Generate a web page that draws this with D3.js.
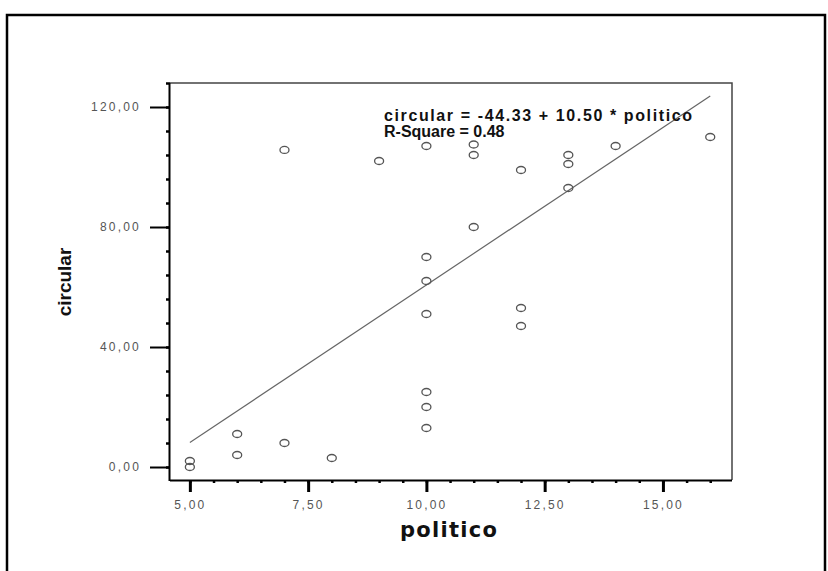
<!DOCTYPE html>
<html>
<head>
<meta charset="utf-8">
<script src="https://cdn.jsdelivr.net/npm/d3@7"></script>
<style>
  body { margin: 0; background: #fff; }
  svg { display: block; }
</style>
</head>
<body>
<div class="canva"></div>
<script>
const width = 828
const height = 571

// data
const politico = [5, 5, 6, 6, 7, 7, 8, 9, 10, 10, 10, 10, 10, 10, 10, 11, 11, 11, 12, 12, 12, 13, 13, 13, 14, 16]
const circular = [2, 0, 11, 4, 8, 105.7, 3, 102, 107, 70, 62, 51, 25, 20, 13, 107.5, 104, 80, 99, 53, 47, 104, 101, 93, 107, 110]
const xMajor = [5, 7.5, 10, 12.5, 15]
const xMinor = d3.range(5, 16.01, 0.5)
const yMajor = [0, 40, 80, 120]
const yMinor = d3.range(0, 128.1, 8)
const fitA = -44.33
const fitB = 10.50
const fitLabels = ["circular = -44.33 + 10.50 * politico", "R-Square = 0.48"]

const svg = d3.select(".canva").append("svg").attr("width", width).attr("height", height)

//outer frame (bottom edge falls off the picture)
svg.append("path")
  .attr("d", `M7,${height} V15 H825 V${height}`)
  .attr("fill", "none")
  .attr("stroke", "#000")
  .attr("stroke-width", 2.5)

const x = d3.scaleLinear().domain([4.58, 16.46]).range([170, 732])
const y = d3.scaleLinear().domain([-4.33, 128]).range([480, 83])

const fmt = d => d3.format(".2f")(d).replace(".", ",")

//plot box top/right
svg.append("path")
  .attr("d", `M170,83 H732 V480`)
  .attr("fill", "none")
  .attr("stroke", "#444")
  .attr("stroke-width", 1.5)

//minor ticks
svg.append("g")
  .attr("transform", "translate(0,480)")
  .call(d3.axisBottom(x).tickValues(xMinor).tickSize(3).tickSizeOuter(0).tickFormat(""))
  .call(g => g.select(".domain").remove())
  .call(g => g.selectAll("line").attr("stroke", "#000").attr("stroke-width", 2.5))
svg.append("g")
  .attr("transform", "translate(170,0)")
  .call(d3.axisLeft(y).tickValues(yMinor).tickSize(4).tickSizeOuter(0).tickFormat(""))
  .call(g => g.select(".domain").remove())
  .call(g => g.selectAll("line").attr("stroke", "#000").attr("stroke-width", 2.5))

//major axes
const xAxis = svg.append("g")
  .attr("transform", "translate(0,480)")
  .call(d3.axisBottom(x).tickValues(xMajor).tickSize(12).tickSizeOuter(0).tickPadding(8).tickFormat(fmt))
xAxis.select(".domain").attr("d", `M170,0.5H732`).attr("stroke", "#000").attr("stroke-width", 2)
xAxis.selectAll("line").attr("stroke", "#000").attr("stroke-width", 3)

const yAxis = svg.append("g")
  .attr("transform", "translate(170,0)")
  .call(d3.axisLeft(y).tickValues(yMajor).tickSize(20).tickSizeOuter(0).tickPadding(9).tickFormat(fmt))
yAxis.select(".domain").attr("d", `M-0.5,83V481`).attr("stroke", "#000").attr("stroke-width", 2)
yAxis.selectAll("line").attr("stroke", "#000").attr("stroke-width", 2)

svg.selectAll(".tick text")
  .attr("font-family", "Liberation Sans, Arial, sans-serif")
  .attr("font-size", 12)
  .attr("letter-spacing", 2.2)
  .attr("fill", "#555")

//regression line
svg.append("line")
  .attr("x1", x(5)).attr("y1", y(fitA + fitB * 5))
  .attr("x2", x(16)).attr("y2", y(fitA + fitB * 16))
  .attr("stroke", "#666")
  .attr("stroke-width", 1.2)

//points
svg.append("g")
  .selectAll("ellipse")
  .data(politico.map((p, i) => ({ p, c: circular[i] })))
  .enter()
  .append("ellipse")
  .attr("cx", d => x(d.p))
  .attr("cy", d => y(d.c))
  .attr("rx", 4.5)
  .attr("ry", 3.5)
  .attr("fill", "none")
  .attr("stroke", "#555")
  .attr("stroke-width", 1.3)

//fit text
svg.append("g")
  .selectAll("text")
  .data(fitLabels)
  .enter()
  .append("text")
  .attr("x", 384)
  .attr("y", (d, i) => 121 + i * 16)
  .attr("font-family", "Liberation Sans, Arial, sans-serif")
  .attr("font-weight", "bold")
  .attr("font-size", 16)
  .attr("fill", "#111")
  .text(d => d)
  .filter((d, i) => i === 0)
  .attr("textLength", 308)
  .attr("lengthAdjust", "spacing")

//axis titles
svg.append("text")
  .attr("x", 400).attr("y", 537)
  .attr("font-family", "DejaVu Sans, sans-serif")
  .attr("font-weight", "bold")
  .attr("font-size", 21)
  .attr("textLength", 97)
  .attr("lengthAdjust", "spacing")
  .attr("fill", "#111")
  .text("politico")

svg.append("text")
  .attr("transform", "translate(71,282) rotate(-90)")
  .attr("text-anchor", "middle")
  .attr("font-family", "Liberation Sans Narrow, Liberation Sans, sans-serif")
  .attr("font-weight", "bold")
  .attr("font-size", 19)
  .attr("fill", "#111")
  .text("circular")
</script>
</body>
</html>
